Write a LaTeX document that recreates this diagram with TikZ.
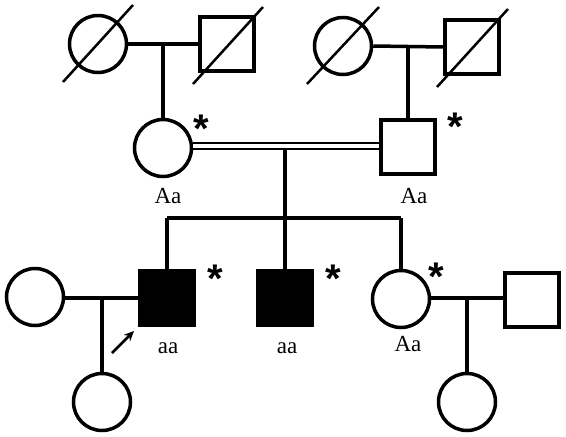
\documentclass[tikz,border=0pt]{standalone}
\usepackage{fontspec}
\setmainfont{Liberation Serif}
\newfontfamily\starfont{Liberation Sans}
\usetikzlibrary{arrows.meta}
\begin{document}
\begin{tikzpicture}[x=1pt,y=-1pt,
  ln/.style={line width=3.5pt},
  fem/.style={circle,draw,line width=3.5pt,minimum size=57pt,inner sep=0pt},
  mal/.style={rectangle,draw,line width=3.5pt,minimum size=54pt,inner sep=0pt},
  aff/.style={mal,fill=black},
  slash/.style={line width=2.5pt},
  geno/.style={font=\fontsize{23}{23}\selectfont,inner sep=0pt},
  star/.style={font=\starfont\bfseries\fontsize{40}{40}\selectfont,inner sep=0pt}]
\useasboundingbox (0,0) rectangle (566,437);
% generation I
\node[fem] (a1) at (98,44) {};
\node[mal] (a2) at (227,44) {};
\node[fem] (b1) at (343,46) {};
\node[mal] (b2) at (472,47) {};
% generation II
\node[fem] (m) at (163,148) {};
\node[mal] (f) at (408,147) {};
% generation III
\node[fem] (w) at (35,297) {};
\node[aff] (p) at (167,298) {};
\node[aff] (s) at (285,298) {};
\node[fem] (d) at (401,299) {};
\node[mal] (h) at (532,300) {};
% generation IV
\node[fem] (c1) at (102,402) {};
\node[fem] (c2) at (467,402) {};
% slashes
\coordinate (a1s) at (63,82); \coordinate (a1e) at (133,5);
\coordinate (a2s) at (193,84); \coordinate (a2e) at (263,7);
\coordinate (b1s) at (307,84); \coordinate (b1e) at (379,7);
\coordinate (b2s) at (437,87); \coordinate (b2e) at (508,9);
\draw[slash] (a1s) -- (a1e);
\draw[slash] (a2s) -- (a2e);
\draw[slash] (b1s) -- (b1e);
\draw[slash] (b2s) -- (b2e);
% couple lines gen I
\draw[ln] (a1.east) -- (a2.west);
\draw[ln] (b1.east) -- (b2.west);
\draw[ln] (a1.east -| m.north) -- (m.north);
\draw[ln] (b1.east -| f.north) -- (f.north);
% consanguineous couple
\coordinate (ml) at (m.east |- 0,146);
\coordinate (fl) at (f.west |- 0,146);
\draw[line width=2.2pt,double,double distance=3.8pt] (ml) -- (fl);
\coordinate (sv) at (285,149);
\coordinate (sh) at (285,218);
\draw[ln] (sv) -- (sh);
\draw[ln] (p.north |- sh) -- (d.north |- sh);
\draw[ln] (p.north |- sh) -- (p.north);
\draw[ln] (s.north |- sh) -- (s.north);
\draw[ln] (d.north |- sh) -- (d.north);
% gen III couples
\draw[ln] (w.east |- 0,298) -- (p.west |- 0,298);
\draw[ln] (d.east |- 0,298) -- (h.west |- 0,298);
\draw[ln] (c1.north |- 0,298) -- (c1.north);
\draw[ln] (c2.north |- 0,298) -- (c2.north);
% proband arrow
\coordinate (ar1) at (112,353);
\coordinate (ar2) at (134,331);
\draw[line width=2.5pt,-{Stealth[length=10pt,width=9pt]}] (ar1) -- (ar2);
% labels
\node[geno] (lm) at (168,196) {Aa};
\node[geno] (lf) at (414,196) {Aa};
\node[geno] (lp) at (168,348) {aa};
\node[geno] (ls) at (287,348) {aa};
\node[geno] (ld) at (408,344) {Aa};
% stars
\node[star] (st1) at (201,129) {*};
\node[star] (st2) at (455,127) {*};
\node[star] (st3) at (215,279) {*};
\node[star] (st4) at (333,279) {*};
\node[star] (st5) at (436,277) {*};
\end{tikzpicture}
\end{document}
